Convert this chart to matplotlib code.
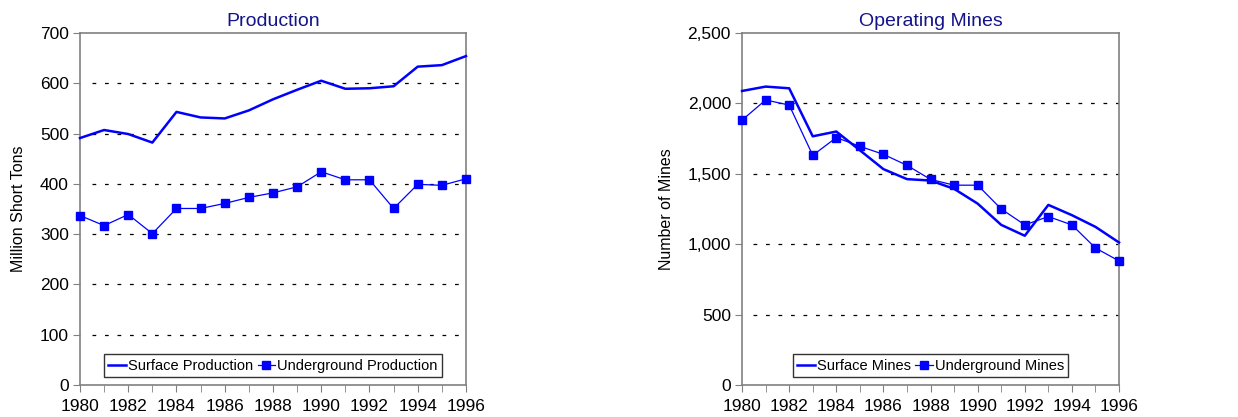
import matplotlib.pyplot as plt
from matplotlib.ticker import FuncFormatter, MultipleLocator

plt.rcParams['font.family'] = ['Liberation Sans', 'DejaVu Sans']

years = list(range(1980, 1997))
surface_prod = [491, 507, 499, 482, 543, 532, 530, 546, 568, 587, 605, 589, 590, 594, 633, 636, 654]
under_prod = [337, 317, 339, 301, 351, 351, 361, 373, 382, 394, 424, 408, 408, 351, 399, 397, 410]
surface_mines = [2088, 2119, 2107, 1766, 1800, 1667, 1533, 1462, 1452, 1393, 1288, 1137, 1060, 1279, 1206, 1123, 1012]
under_mines = [1881, 2024, 1988, 1631, 1757, 1695, 1638, 1560, 1460, 1419, 1419, 1250, 1137, 1196, 1137, 973, 881]

blue = '#0000ff'
navy = '#14148a'

fig = plt.figure(figsize=(12.38, 4.17), dpi=100)
ax1 = fig.add_axes([0.0646, 0.0767, 0.3118, 0.8443])
ax2 = fig.add_axes([0.5994, 0.0767, 0.3045, 0.8443])

def style(ax, ymax, ystep, title, ylabel, labels, series, fmt):
    s, u = series
    ax.plot(years, s, color=blue, lw=1.8, label=labels[0], clip_on=False, zorder=3)
    ax.plot(years, u, color=blue, lw=0.9, marker='s', ms=5.5, label=labels[1], clip_on=False, zorder=3)
    ax.set_xlim(1980, 1996)
    ax.set_ylim(0, ymax)
    ax.xaxis.set_major_locator(MultipleLocator(2))
    ax.xaxis.set_minor_locator(MultipleLocator(1))
    ax.yaxis.set_major_locator(MultipleLocator(ystep))
    ax.yaxis.set_major_formatter(FuncFormatter(fmt))
    for y in range(ystep, ymax, ystep):
        ax.axhline(y, xmin=0.03, color='black', lw=0.9, ls=(0, (3, 7)), zorder=1)
    for sp in ax.spines.values():
        sp.set_color('#808080')
        sp.set_linewidth(1.2)
    ax.tick_params(axis='both', which='both', direction='out', color='#808080', labelsize=12.5)
    ax.tick_params(axis='x', which='both', length=5, pad=5)
    ax.tick_params(axis='y', length=5, pad=3)
    ax.set_title(title, color=navy, fontsize=14, pad=5)
    ax.set_ylabel(ylabel, fontsize=11.5, labelpad=10)
    leg = ax.legend(loc='lower center', bbox_to_anchor=(0.5, 0.01), ncol=2, fontsize=10.5,
                    frameon=True, fancybox=False, handlelength=1.2, handletextpad=0.15,
                    columnspacing=0.3, borderpad=0.3, borderaxespad=0.3)
    leg.get_frame().set_edgecolor('black')
    leg.get_frame().set_linewidth(1.0)

style(ax1, 700, 100, 'Production', 'Million Short Tons',
      ['Surface Production', 'Underground Production'], (surface_prod, under_prod),
      lambda v, p: f'{int(v)}')
style(ax2, 2500, 500, 'Operating Mines', 'Number of Mines',
      ['Surface Mines', 'Underground Mines'], (surface_mines, under_mines),
      lambda v, p: f'{int(v):,}')

fig.savefig('out.png', dpi=100)
